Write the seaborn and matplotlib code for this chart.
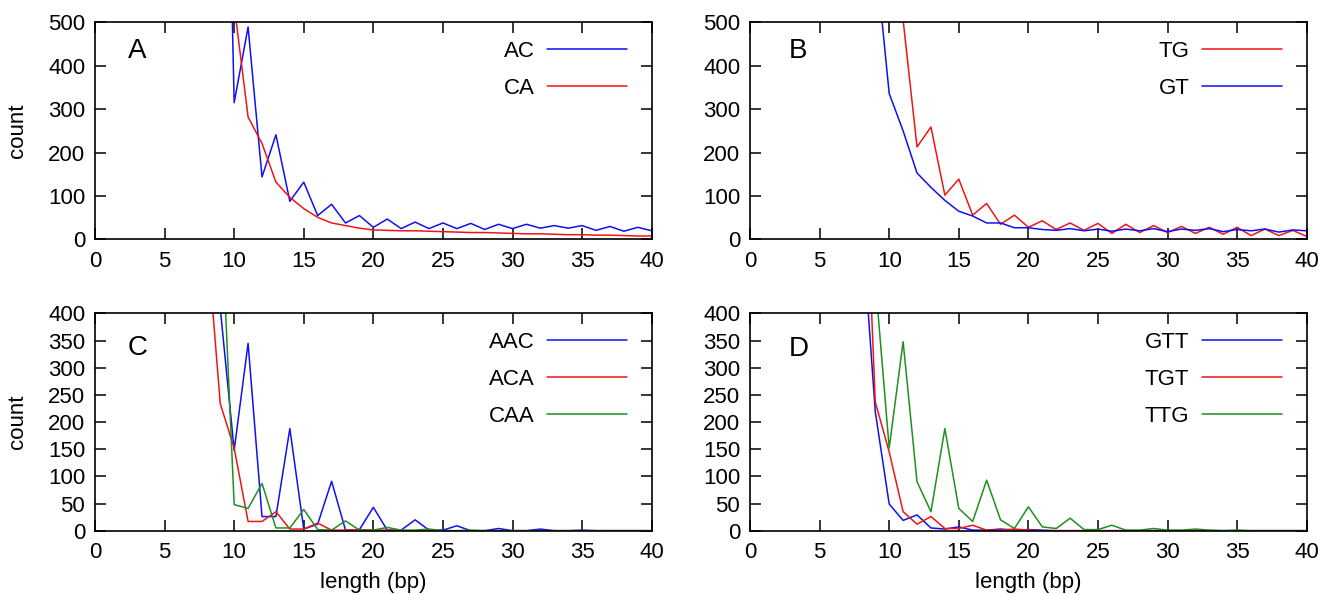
import numpy as np
import pandas as pd
import matplotlib
matplotlib.use("Agg")
import matplotlib.pyplot as plt
import seaborn as sns

# ==============================================================================
# DATA (counts per repeat length)
# ==============================================================================
# panel A
ac_len = list(range(9, 41))
ac_cnt = [1750, 315, 489, 144, 241, 88, 132, 55, 81, 38, 55, 28, 47, 25, 40, 25,
          38, 25, 37, 23, 35, 25, 35, 26, 32, 26, 32, 21, 30, 19, 28, 20]
ca_len = list(range(10, 41))
ca_cnt = [540, 282, 221, 132, 97, 71, 51, 38, 32, 26, 22, 21, 20, 20, 19, 18,
          17, 16, 16, 15, 14, 13, 13, 12, 11, 11, 10, 10, 9, 8, 8]

# panel B
tg_len = list(range(10, 41))
tg_cnt = [1800, 505, 213, 259, 102, 139, 56, 83, 35, 56, 28, 43, 23, 38, 21, 37,
          14, 35, 16, 32, 16, 30, 14, 28, 12, 28, 9, 24, 9, 21, 7]
gt_len = list(range(9, 41))
gt_cnt = [660, 336, 250, 153, 120, 90, 65, 54, 38, 38, 27, 27, 23, 21, 25, 20,
          24, 19, 24, 20, 25, 18, 24, 21, 25, 18, 23, 20, 24, 17, 22, 20]

# panel C
aac_len = list(range(8, 41))
aac_cnt = [1500, 410, 148, 345, 26, 26, 188, 3, 12, 91, 1, 2, 43, 1, 1, 20, 1,
           1, 9, 0, 0, 4, 0, 0, 3, 0, 0, 1, 0, 0, 0, 0, 0]
aca_len = list(range(8, 41))
aca_cnt = [553, 234, 152, 17, 17, 35, 3, 3, 14, 1, 1, 2, 1, 1, 0, 0, 0,
           0, 0, 0, 0, 0, 0, 0, 0, 0, 0, 0, 0, 0, 0, 0, 0]
caa_len = list(range(9, 41))
caa_cnt = [625, 48, 41, 87, 5, 5, 39, 2, 1, 18, 1, 1, 6, 1, 1, 3,
           0, 0, 1, 0, 0, 0, 0, 0, 0, 0, 0, 0, 0, 0, 0, 0]

# panel D
gtt_len = list(range(8, 41))
gtt_cnt = [581, 219, 49, 19, 29, 5, 3, 7, 1, 1, 3, 1, 2, 1, 0, 0, 0,
           0, 0, 0, 0, 0, 0, 0, 0, 0, 0, 0, 0, 0, 0, 0, 0]
tgt_len = list(range(8, 41))
tgt_cnt = [864, 237, 145, 35, 12, 26, 4, 4, 10, 1, 1, 3, 1, 0, 0, 0, 0,
           0, 0, 0, 0, 0, 0, 0, 0, 0, 0, 0, 0, 0, 0, 0, 0]
ttg_len = list(range(9, 41))
ttg_cnt = [462, 152, 348, 90, 35, 188, 41, 17, 93, 20, 4, 44, 7, 4, 23, 2,
           2, 10, 1, 1, 4, 1, 1, 3, 1, 0, 1, 0, 0, 0, 0, 0]

BLUE = "#1010f0"
RED = "#f01515"
GREEN = "#1f8f1f"

panels = [
    ("A", [("AC", ac_len, ac_cnt, BLUE), ("CA", ca_len, ca_cnt, RED)], 500, 100),
    ("B", [("TG", tg_len, tg_cnt, RED), ("GT", gt_len, gt_cnt, BLUE)], 500, 100),
    ("C", [("AAC", aac_len, aac_cnt, BLUE), ("ACA", aca_len, aca_cnt, RED),
           ("CAA", caa_len, caa_cnt, GREEN)], 400, 50),
    ("D", [("GTT", gtt_len, gtt_cnt, BLUE), ("TGT", tgt_len, tgt_cnt, RED),
           ("TTG", ttg_len, ttg_cnt, GREEN)], 400, 50),
]

# ==============================================================================
# PLOT
# ==============================================================================
sns.set_style("ticks")
plt.rcParams["font.family"] = ["Liberation Sans", "DejaVu Sans"]
plt.rcParams["text.color"] = "black"
plt.rcParams["xtick.color"] = "black"
plt.rcParams["ytick.color"] = "black"
plt.rcParams["axes.labelcolor"] = "black"

fig, axes = plt.subplots(2, 2, figsize=(13.23, 5.94), dpi=100)
fig.subplots_adjust(left=0.0718, right=0.9877, top=0.9625, bottom=0.1066,
                    wspace=0.1766, hspace=0.3407)

letter_pos = {"A": (0.075, 0.868), "B": (0.087, 0.866),
              "C": (0.076, 0.840), "D": (0.087, 0.838)}

for ax, (letter, series, ymax, ystep) in zip(axes.flat, panels):
    for name, xs, ys, col in series:
        sns.lineplot(x=xs, y=ys, ax=ax, color=col, linewidth=1.1, label=name)

    ax.set_xlim(0, 40)
    ax.set_ylim(0, ymax)
    ax.set_xticks(np.arange(0, 41, 5))
    ax.set_yticks(np.arange(0, ymax + 1, ystep))
    ax.tick_params(direction="in", length=8, width=1.1, top=True, right=True,
                   labelsize=16)
    ax.tick_params(axis="y", pad=7)
    ax.tick_params(axis="x", pad=8)
    for sp in ax.spines.values():
        sp.set_visible(True)
        sp.set_linewidth(1.2)
        sp.set_color("black")

    lx, ly = letter_pos[letter]
    ax.text(lx, ly, letter, transform=ax.transAxes, fontsize=20,
            ha="center", va="center")

    ax.legend(loc="upper right", bbox_to_anchor=(0.955, 0.915), frameon=False,
              markerfirst=False, fontsize=16, handlelength=3.6,
              handletextpad=0.55, labelspacing=0.72, borderpad=0,
              borderaxespad=0)

    ax.set_xlabel("")
    ax.set_ylabel("")

for ax in axes[:, 0]:
    ax.set_ylabel("count", fontsize=16)
    ax.yaxis.set_label_coords(-0.12, 0.5)
for ax in axes[1, :]:
    ax.set_xlabel("length (bp)", fontsize=16)
    ax.xaxis.set_label_coords(0.5, -0.19)

plt.savefig("out.png", dpi=100)
